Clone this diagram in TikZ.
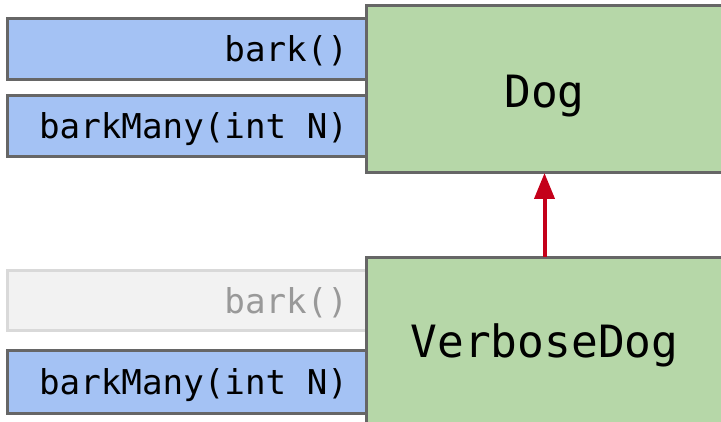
\documentclass[tikz,border=0pt]{standalone}
\usepackage{fontspec}
\setmonofont{DejaVu Sans Mono}
\usetikzlibrary{arrows.meta}
\definecolor{methodblue}{HTML}{A4C2F4}
\definecolor{classgreen}{HTML}{B6D7A8}
\definecolor{edgegray}{HTML}{666666}
\definecolor{ghostfill}{HTML}{F2F2F2}
\definecolor{ghostedge}{HTML}{D9D9D9}
\definecolor{ghosttext}{HTML}{999999}
\definecolor{arrowred}{HTML}{C4001A}
\newcommand\monosp{\hspace*{0.6021em}}
\begin{document}
\begin{tikzpicture}[x=1pt,y=-1pt,
  methodbox/.style={draw=edgegray, fill=methodblue, line width=3pt, rectangle, outer sep=0pt,
    minimum width=359pt, minimum height=61pt, text width=322pt, inner xsep=18.5pt,
    text height=26pt, text depth=0pt,
    align=right, font=\fontsize{34.2}{36}\selectfont\ttfamily, anchor=north west},
  ghostbox/.style={methodbox, draw=ghostedge, fill=ghostfill, text=ghosttext},
  classbox/.style={draw=edgegray, fill=classgreen, line width=3pt, rectangle, outer sep=0pt,
    minimum width=356pt, minimum height=167pt, anchor=north west, text depth=0pt,
    font=\fontsize{44.5}{47}\selectfont\ttfamily},
  inherit/.style={draw=arrowred, line width=4pt, -{Triangle[width=20pt,length=26pt]}}]
\useasboundingbox (0,0) rectangle (721,422);
\clip (0,0) rectangle (721,422);
\node[methodbox] (dogbark) at (7.5,18.5) {bark()};
\node[methodbox] (dogmany) at (7.5,95.3) {barkMany(int\monosp N)};
\node[ghostbox, minimum height=60pt] (vbark) at (7.5,270.5) {bark()};
\node[methodbox, minimum height=62pt] (vmany) at (7.5,351) {barkMany(int\monosp N)};
\node[classbox, text height=37pt] (dog) at (366.5,6) {Dog};
\node[classbox, minimum height=170pt, text height=31.4pt] (vdog) at (366.5,257.3) {VerboseDog};
\draw[inherit] (vdog.north) -- (dog.south);
\end{tikzpicture}
\end{document}
